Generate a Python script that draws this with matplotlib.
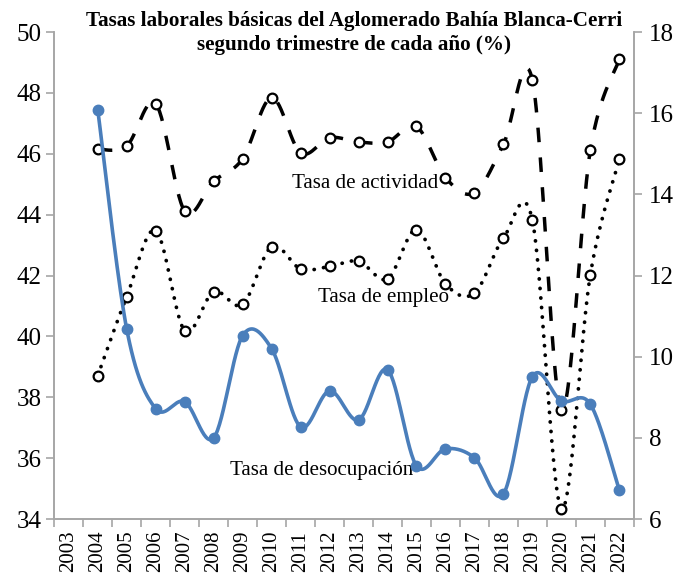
import numpy as np
import matplotlib
matplotlib.use("Agg")
import matplotlib.pyplot as plt

plt.rcParams["font.family"] = ["Liberation Serif", "DejaVu Serif"]

years = [str(y) for y in range(2003, 2023)]
data_years = list(range(2004, 2023))

actividad = [46.15, 46.26, 47.65, 44.12, 45.10, 45.84, 47.85, 46.03, 46.53, 46.39,
             46.39, 46.90, 45.22, 44.72, 46.31, 48.42, 37.59, 46.12, 49.11]
empleo = [38.71, 41.31, 43.48, 40.19, 41.47, 41.05, 42.95, 42.22, 42.30, 42.47,
          41.89, 43.51, 41.73, 41.42, 43.23, 43.81, 34.34, 42.03, 45.82]
desocupacion = [16.09, 10.68, 8.72, 8.89, 8.00, 10.52, 10.20, 8.27, 9.16, 8.44,
                9.68, 7.31, 7.73, 7.51, 6.62, 9.51, 8.91, 8.83, 6.71]


def smooth(x, y, n=30):
    # Catmull-Rom, like Excel's smoothed lines
    x = np.asarray(x, float)
    y = np.asarray(y, float)
    px = np.concatenate([[x[0]], x, [x[-1]]])
    py = np.concatenate([[y[0]], y, [y[-1]]])
    xs, ys = [], []
    t = np.linspace(0, 1, n, endpoint=False)
    for i in range(1, len(px) - 2):
        p0, p1, p2, p3 = [np.array([px[j], py[j]]) for j in (i - 1, i, i + 1, i + 2)]
        c1 = p1 + (p2 - p0) / 6
        c2 = p2 - (p3 - p1) / 6
        tt = t[:, None]
        b = ((1 - tt) ** 3) * p1 + 3 * ((1 - tt) ** 2) * tt * c1 + 3 * (1 - tt) * tt ** 2 * c2 + tt ** 3 * p2
        xs.extend(b[:, 0])
        ys.extend(b[:, 1])
    xs.append(x[-1])
    ys.append(y[-1])
    return np.array(xs), np.array(ys)


pos = np.array([years.index(str(y)) for y in data_years])

fig = plt.figure(figsize=(6.81, 5.73), dpi=100)
ax = fig.add_axes([0.0797, 0.0942, 0.851, 0.8498])
ax2 = ax.twinx()

gray = "#a6a6a6"

sx, sy = smooth(pos, actividad)
ax.plot(sx, sy, color="black", lw=2.5, linestyle=(0, (4.2, 4.4)))
ax.plot(pos, actividad, "o", ms=7, mfc="white", mec="black", mew=1.6, zorder=3)

sx, sy = smooth(pos, empleo)
ax.plot(sx, sy, color="black", lw=2.7, linestyle=(0, (0.05, 2.5)), dash_capstyle="round")
ax.plot(pos, empleo, "o", ms=7, mfc="white", mec="black", mew=1.6, zorder=3)

sx, sy = smooth(pos, desocupacion)
ax2.plot(sx, sy, color="#4a7ebb", lw=2.6, solid_capstyle="round")
ax2.plot(pos, desocupacion, "o", ms=7.5, color="#4a7ebb")

ax.set_xlim(-0.5, len(years) - 0.5)
ax.set_ylim(34, 50)
ax.set_yticks(range(34, 51, 2))
ax2.set_ylim(6, 18)
ax2.set_yticks(range(6, 19, 2))

ax.set_xticks(range(len(years)))
ax.set_xticklabels(years, rotation=90, fontsize=15)
ax.set_xticks(np.arange(-0.5, len(years), 1), minor=True)
ax.tick_params(axis="x", which="major", length=0, pad=8.5)
ax.tick_params(axis="x", which="minor", length=6, color=gray, width=1.2)
ax.tick_params(axis="y", labelsize=18, length=6, color=gray, width=1.2, pad=3)
ax2.tick_params(axis="y", labelsize=18, length=6, color=gray, width=1.2, pad=5)

for a in (ax, ax2):
    a.spines["top"].set_visible(False)
    for s in ("left", "right", "bottom"):
        a.spines[s].set_color(gray)
        a.spines[s].set_linewidth(1.2)

ax.text(10.22, 45.02, "Tasa de actividad", fontsize=15.1, ha="center", va="center")
ax.text(10.85, 41.29, "Tasa de empleo", fontsize=15.1, ha="center", va="center")
ax.text(8.73, 35.58, "Tasa de desocupación", fontsize=15.1, ha="center", va="center")

fig.text(0.52, 0.98, "Tasas laborales básicas del Aglomerado Bahía Blanca-Cerri\nsegundo trimestre de cada año (%)",
         ha="center", va="top", fontsize=15.2, fontweight="bold", linespacing=1.25)

fig.savefig("out.png", dpi=100)
